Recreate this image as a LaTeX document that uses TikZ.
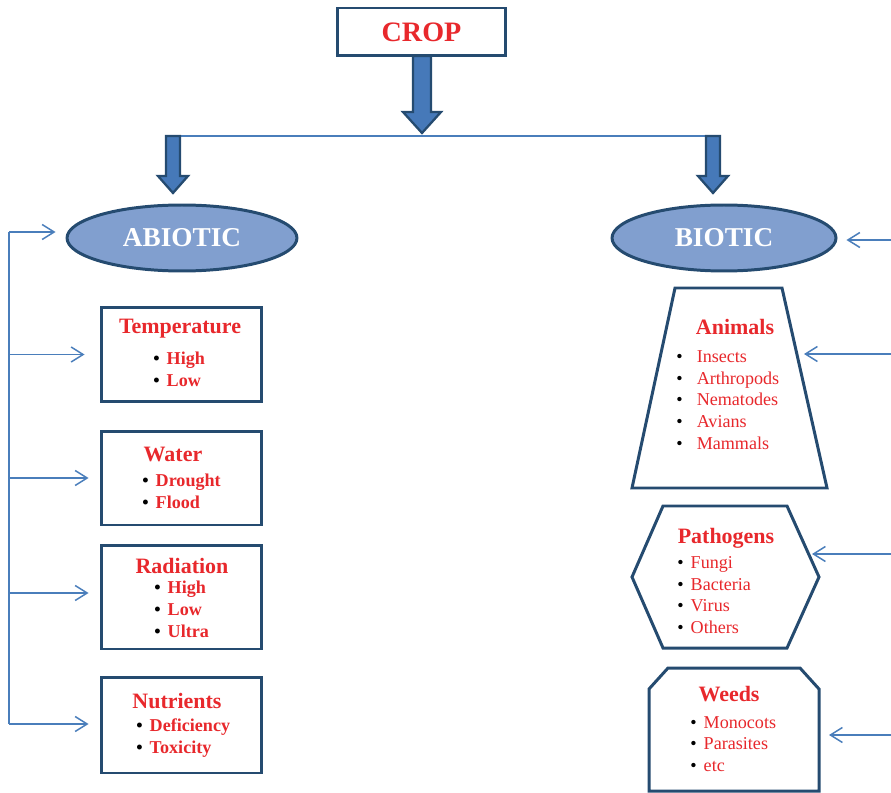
\documentclass[tikz,border=0pt]{standalone}
\usepackage{fontspec}
\setmainfont{Liberation Serif}
\usetikzlibrary{arrows.meta,positioning,shapes.geometric}
\definecolor{frame}{HTML}{254B70}
\definecolor{blk}{HTML}{4679B9}
\definecolor{ovl}{HTML}{819FCF}
\definecolor{redtxt}{HTML}{E8282C}
\definecolor{wirec}{HTML}{4A7EBB}
\newcommand{\itm}[1]{{\color{black}\textbullet}\hspace{4pt}#1}
\newcommand{\itmw}[1]{{\color{black}\textbullet}\hspace{8pt}#1}
\tikzset{
  topbox/.style ={draw=frame, line width=1.7pt, fill=white,
                  minimum width=3.35cm, minimum height=0.96cm,
                  font=\fontsize{16}{18}\selectfont\bfseries, text=redtxt},
  catbox/.style ={draw=frame, line width=1.7pt, fill=white,
                  minimum width=3.22cm},
  oval/.style   ={ellipse, draw=frame, line width=1.7pt, fill=ovl,
                  minimum height=1.32cm, text=white,
                  font=\fontsize{15.5}{18}\selectfont\bfseries},
  shp/.style    ={draw=frame, line width=1.7pt, fill=white, line join=miter},
  blkarr/.style ={draw=frame, line width=1.3pt, fill=blk, line join=miter},
  ttl/.style    ={font=\fontsize{12.5}{14}\selectfont\bfseries, text=redtxt},
  lstb/.style   ={align=left, inner sep=0pt, text=redtxt,
                  font=\fontsize{10.3}{12.5}\selectfont\bfseries},
  lstr/.style   ={align=left, inner sep=0pt, text=redtxt,
                  font=\fontsize{10.3}{12.3}\selectfont},
  bus/.style    ={draw=wirec, line width=0.85pt},
  feed/.style   ={-{Straight Barb[length=2.4mm,width=3mm]}, draw=wirec,
                  line width=0.85pt},
}

\begin{document}
\begin{tikzpicture}[x=0.02cm, y=-0.02cm]
  \useasboundingbox (0,0) rectangle (891,793);

  % top of the tree
  \node[topbox] (crop) at (421.5,32) {CROP};
  \coordinate (splitL) at (165,136);
  \coordinate (splitR) at (714,136);
  \draw[bus] (splitL) -- (splitR);
  \draw[blkarr] (413,56) -- (413,112) -- (403,112) -- (422,133)
    -- (441,112) -- (431,112) -- (431,56) -- cycle;
  \draw[blkarr] (166,136) -- (166,176) -- (158,176) -- (173,193)
    -- (188,176) -- (180,176) -- (180,136) -- cycle;
  \draw[blkarr] (706,136) -- (706,176) -- (698,176) -- (713,193)
    -- (728,176) -- (720,176) -- (720,136) -- cycle;

  \node[oval, minimum width=4.6cm] (abio) at (182,238) {ABIOTIC};
  \node[oval, minimum width=4.48cm] (bio) at (724,238) {BIOTIC};

  % abiotic side
  \node[catbox, minimum height=1.9cm]  (temp)  at (181.5,354.5) {};
  \node[catbox, minimum height=1.88cm] (water) at (181.5,478) {};
  \node[catbox, minimum height=2.08cm] (rad)   at (181.5,597) {};
  \node[catbox, minimum height=1.92cm] (nutr)  at (181.5,725) {};

  \node[ttl] (tempT) at (180,329) {Temperature};
  \node[lstb, anchor=west] (tempL) at (153,369) {\itm{High}\\ \itm{Low}};
  \node[ttl] (waterT) at (173,454) {Water};
  \node[lstb, anchor=west] (waterL) at (142,491) {\itm{Drought}\\ \itm{Flood}};
  \node[ttl] (radT) at (182,566) {Radiation};
  \node[lstb, anchor=west] (radL) at (154,609)
    {\itm{High}\\ \itm{Low}\\ \itm{Ultra}};
  \node[ttl] (nutrT) at (177,701) {Nutrients};
  \node[lstb, anchor=west] (nutrL) at (136,738)
    {\itm{Deficiency}\\ \itm{Toxicity}};

  \coordinate (railT) at (9,232);
  \coordinate (railB) at (9,724);
  \draw[bus] (railT) -- (railB);
  \draw[feed, shorten >=0.2cm] (railT) -- (abio.west |- railT);
  \draw[feed, shorten >=0.3cm] (9,354.5) -- (temp.west);
  \draw[feed, shorten >=0.22cm] (9,478) -- (water.west);
  \draw[feed, shorten >=0.22cm] (9,593) -- (rad.west |- 9,593);
  \draw[feed, shorten >=0.22cm] (railB) -- (nutr.west |- railB);

  % biotic side
  \draw[shp] (675,288) -- (782,288) -- (827,488) -- (632,488) -- cycle;
  \draw[shp] (663,506) -- (787,506) -- (819,577) -- (787,648)
    -- (663,648) -- (632,577) -- cycle;
  \draw[shp] (649,791) -- (649,689) -- (668,668) -- (800,668)
    -- (819,689) -- (819,791) -- cycle;
  \coordinate (anim) at (804,354);
  \coordinate (path) at (812,554);
  \coordinate (weed) at (829,735);

  \node[ttl] (animT) at (735,327) {Animals};
  \node[lstr, anchor=west] (animL) at (676,400)
    {\itmw{Insects}\\ \itmw{Arthropods}\\ \itmw{Nematodes}\\
     \itmw{Avians}\\ \itmw{Mammals}};
  \node[ttl] (pathT) at (726,538) {Pathogens};
  \node[lstr, anchor=west] (pathL) at (677,595)
    {\itm{Fungi}\\ \itm{Bacteria}\\ \itm{Virus}\\ \itm{Others}};
  \node[ttl] (weedT) at (729,694) {Weeds};
  \node[lstr, anchor=west] (weedL) at (690,744)
    {\itm{Monocots}\\ \itm{Parasites}\\ \itm{etc}};

  \coordinate (inB) at (891,240);
  \coordinate (inA) at (891,354);
  \coordinate (inP) at (891,554);
  \coordinate (inW) at (891,735);
  \draw[feed, shorten >=0.18cm] (inB) -- (bio.east |- inB);
  \draw[feed] (inA) -- (anim);
  \draw[feed] (inP) -- (path);
  \draw[feed] (inW) -- (weed);
\end{tikzpicture}
\end{document}
